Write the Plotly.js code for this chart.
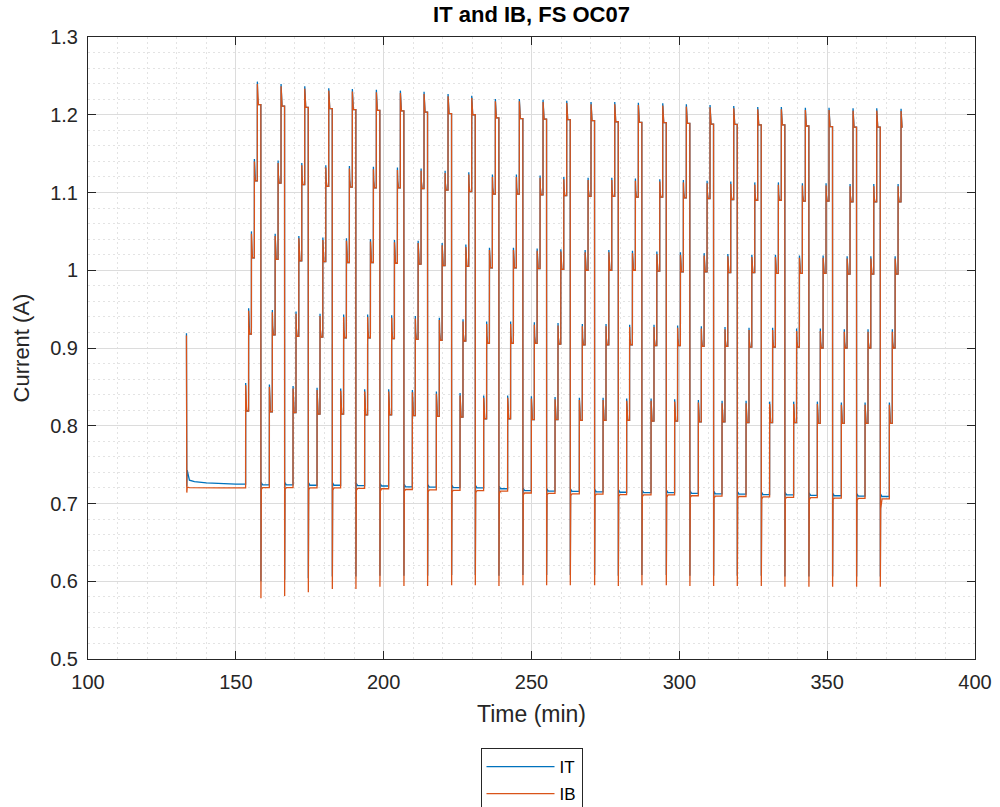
<!DOCTYPE html>
<html>
<head>
<meta charset="utf-8">
<script src="https://cdn.plot.ly/plotly-3.0.1.min.js"></script>
<style>
html,body{margin:0;padding:0;background:#ffffff;}
#chart{width:1000px;height:807px;}
</style>
</head>
<body>
<div id="chart"></div>
<script>
// ---------------- data ----------------
const seriesNames = ['IT', 'IB'];

// initial segment before the first staircase (min, A)
const preTime = [133.30, 133.42, 133.55, 134.30, 136.00, 140.00, 145.00, 150.00];
const preIB   = [0.916, 0.714, 0.721, 0.7205, 0.7203, 0.7201, 0.7200, 0.7200];
const preIT   = [0.919, 0.722, 0.743, 0.7300, 0.7280, 0.7265, 0.7255, 0.7250];

// time of the top step of each cycle (min)
const cycleTopTime = [157.26,165.28,173.29,181.41,189.39,197.51,205.63,213.64,221.76,229.77,
  237.76,245.87,253.89,261.90,270.12,278.14,286.12,294.37,302.35,310.37,
  318.38,326.50,334.48,342.60,350.61,358.73,366.75,374.97];
// step times relative to the top step (min)
const stepOffset = [-3.95, -2.95, -2.00, -1.00, 0];
const dropDelay = 1.2;

// step spikes and settled levels per cycle (A)
const s1Spike = [0.852,0.850,0.848,0.846,0.845,0.844,0.844,0.843,0.841,0.839,0.836,0.836,0.835,0.834,0.833,0.833,0.832,0.832,0.831,0.830,0.829,0.829,0.828,0.828,0.828,0.827,0.827,0.827];
const s1Level = [0.819,0.818,0.817,0.815,0.815,0.814,0.814,0.813,0.812,0.811,0.809,0.809,0.808,0.808,0.807,0.807,0.807,0.806,0.806,0.805,0.805,0.804,0.804,0.804,0.803,0.803,0.803,0.803];
const s2Spike = [0.948,0.946,0.944,0.941,0.940,0.940,0.939,0.938,0.936,0.934,0.931,0.931,0.930,0.929,0.928,0.928,0.927,0.927,0.926,0.925,0.924,0.923,0.923,0.922,0.922,0.921,0.921,0.921];
const s2Level = [0.918,0.917,0.915,0.914,0.913,0.913,0.912,0.911,0.910,0.909,0.906,0.906,0.906,0.905,0.904,0.904,0.904,0.903,0.903,0.902,0.902,0.901,0.901,0.901,0.900,0.900,0.900,0.900];
const s3Spike = [1.047,1.044,1.041,1.039,1.038,1.037,1.036,1.035,1.032,1.030,1.026,1.026,1.025,1.024,1.023,1.023,1.022,1.021,1.020,1.019,1.018,1.017,1.017,1.016,1.016,1.015,1.015,1.015];
const s3Level = [1.016,1.014,1.012,1.011,1.010,1.010,1.009,1.008,1.006,1.005,1.003,1.003,1.002,1.001,1.000,1.000,1.000,0.999,0.998,0.998,0.997,0.997,0.996,0.996,0.996,0.995,0.995,0.995];
const s4Spike = [1.140,1.138,1.135,1.132,1.131,1.130,1.129,1.128,1.125,1.123,1.120,1.120,1.119,1.117,1.116,1.116,1.115,1.114,1.113,1.112,1.111,1.110,1.110,1.109,1.109,1.108,1.108,1.108];
const s4Level = [1.115,1.112,1.110,1.108,1.107,1.106,1.106,1.105,1.103,1.101,1.098,1.098,1.097,1.096,1.095,1.095,1.094,1.094,1.093,1.092,1.091,1.090,1.090,1.089,1.089,1.088,1.088,1.088];
const s5Spike = [1.2396,1.2366,1.2336,1.2310,1.2300,1.2290,1.2280,1.2267,1.2237,1.2215,1.2173,1.2173,1.2164,1.2150,1.2134,1.2134,1.2125,1.2117,1.2104,1.2096,1.2083,1.2070,1.2070,1.2061,1.2061,1.2053,1.2053,1.2048];
const s5Level = [1.2130,1.2110,1.2096,1.2080,1.2065,1.2057,1.2050,1.2035,1.2014,1.2000,1.1960,1.1950,1.1945,1.1937,1.1924,1.1910,1.1903,1.1898,1.1890,1.1880,1.1877,1.1870,1.1870,1.1855,1.1847,1.1840,1.1840,1.1840];

// after each drop (27 drops): dip, rebound, start of baseline, baseline
const dipIB       = [0.578,0.581,0.586,0.590,0.590,0.593,0.594,0.594,0.595,0.595,0.594,0.595,0.595,0.595,0.595,0.594,0.595,0.595,0.594,0.594,0.594,0.594,0.593,0.593,0.593,0.593,0.593];
const reboundIB   = [1.022,1.003,0.919,0.850,0.826,0.822,0.815,0.805,0.792,0.779,0.735,0.730,0.728,0.727,0.726,0.725,0.725,0.724,0.724,0.723,0.723,0.722,0.722,0.721,0.721,0.720,0.720];
const baseStartIB = [0.718,0.718,0.718,0.717,0.717,0.716,0.716,0.715,0.715,0.714,0.713,0.711,0.711,0.710,0.710,0.709,0.709,0.708,0.708,0.707,0.707,0.706,0.706,0.705,0.705,0.704,0.693];
const baseIB      = [0.7205,0.7205,0.7200,0.7200,0.7195,0.7190,0.7180,0.7175,0.7170,0.7165,0.7160,0.7135,0.7130,0.7125,0.7120,0.7115,0.7110,0.7110,0.7100,0.7095,0.7090,0.7085,0.7080,0.7075,0.7070,0.7065,0.7060];
const dipIT       = [0.600,0.602,0.604,0.606,0.606,0.607,0.607,0.607,0.608,0.608,0.607,0.608,0.608,0.608,0.608,0.607,0.608,0.608,0.607,0.607,0.607,0.607,0.606,0.606,0.606,0.606,0.606];
const baseIT      = [0.7240,0.7240,0.7235,0.7235,0.7230,0.7225,0.7215,0.7210,0.7205,0.7200,0.7190,0.7165,0.7160,0.7155,0.7150,0.7145,0.7140,0.7140,0.7130,0.7125,0.7120,0.7115,0.7110,0.7105,0.7100,0.7095,0.7090];
// IT spike tips sit slightly above IB spikes, per step
const itTipLift = [0.003, 0.003, 0.003, 0.003, 0.003];

// ---------------- build the two waveforms ----------------
const spikes = [s1Spike, s2Spike, s3Spike, s4Spike, s5Spike];
const levels = [s1Level, s2Level, s3Level, s4Level, s5Level];

function build(isIT) {
  const x = [], y = [];
  const pre = isIT ? preIT : preIB;
  for (let i = 0; i < preTime.length; i++) { x.push(preTime[i]); y.push(pre[i]); }
  let prev = pre[pre.length - 1];
  for (let c = 0; c < cycleTopTime.length; c++) {
    for (let k = 0; k < 5; k++) {
      const ts = cycleTopTime[c] + stepOffset[k];
      const sp = spikes[k][c] + (isIT ? itTipLift[k] : 0);
      const lv = levels[k][c];
      x.push(ts);        y.push(prev);
      x.push(ts + 0.02); y.push(sp);
      x.push(ts + 0.12); y.push(lv + (sp - lv) * 0.35);
      x.push(ts + 0.35); y.push(lv);
      prev = lv;
    }
    if (c < dipIB.length) {
      const td = cycleTopTime[c] + dropDelay;
      x.push(td); y.push(prev);
      if (isIT) {
        x.push(td + 0.03); y.push(dipIT[c]);
        x.push(td + 0.12); y.push(baseIT[c] + 0.003);
        x.push(td + 0.6);  y.push(baseIT[c]);
        prev = baseIT[c];
      } else {
        x.push(td + 0.03); y.push(dipIB[c]);
        x.push(td + 0.07); y.push(reboundIB[c]);
        x.push(td + 0.16); y.push(baseStartIB[c]);
        x.push(td + 0.6);  y.push(baseIB[c]);
        prev = baseIB[c];
      }
    } else {
      x.push(cycleTopTime[c] + 0.55); y.push(prev);
    }
  }
  return {x, y};
}

const it = build(true);
const ib = build(false);

const traces = [
  {type: 'scatter', mode: 'lines', name: seriesNames[0], x: it.x, y: it.y,
   line: {color: '#0072BD', width: 1.3}, legendgroup: 'a', hoverinfo: 'skip'},
  {type: 'scatter', mode: 'lines', name: seriesNames[1], x: ib.x, y: ib.y,
   line: {color: '#D95319', width: 1.3}, legendgroup: 'b', hoverinfo: 'skip'}
];

const FONT = 'Liberation Sans, Arial, sans-serif';
const axisCommon = {
  showline: true, linecolor: '#262626', linewidth: 1, mirror: 'ticks',
  ticks: 'inside', ticklen: 8, tickcolor: '#262626', tickwidth: 1,
  showgrid: true, gridcolor: '#dcdcdc', gridwidth: 1, zeroline: false,
  ticklabelstandoff: 5,
  tickfont: {family: FONT, size: 20, color: '#262626'}
};

const layout = {
  width: 1000, height: 807,
  margin: {l: 88, r: 25, t: 37, b: 148, pad: 0, autoexpand: false},
  paper_bgcolor: '#ffffff', plot_bgcolor: '#ffffff',
  font: {family: FONT, color: '#000000'},
  title: {text: '<b>IT and IB, FS OC07</b>', x: 0.5, xref: 'paper', xanchor: 'center',
          y: 1 - 14 / 807, yref: 'container', yanchor: 'middle',
          font: {family: FONT, size: 22, color: '#000000'}},
  xaxis: Object.assign({}, axisCommon, {
    range: [100, 400], tick0: 100, dtick: 50,
    minor: {dtick: 10, showgrid: true, gridcolor: '#e3e3e3', griddash: '2px,3px', gridwidth: 1},
    title: {text: 'Time (min)', standoff: 13,
            font: {family: FONT, size: 23, color: '#262626'}}
  }),
  yaxis: Object.assign({}, axisCommon, {
    range: [0.5, 1.3], tick0: 0.5, dtick: 0.1,
    minor: {dtick: 0.02, showgrid: true, gridcolor: '#e3e3e3', griddash: '2px,3px', gridwidth: 1},
    title: {text: 'Current (A)', standoff: 14,
            font: {family: FONT, size: 22, color: '#262626'}}
  }),
  showlegend: true,
  legend: {x: 0.5, xanchor: 'center', xref: 'paper',
           y: 1 - 748 / 807, yanchor: 'top', yref: 'container',
           orientation: 'v', itemwidth: 68,
           bgcolor: '#ffffff', bordercolor: '#262626', borderwidth: 1,
           tracegroupgap: 2,
           font: {family: FONT, size: 17, color: '#000000'}}
};

Plotly.newPlot('chart', traces, layout, {staticPlot: true, displayModeBar: false});
</script>
</body>
</html>
